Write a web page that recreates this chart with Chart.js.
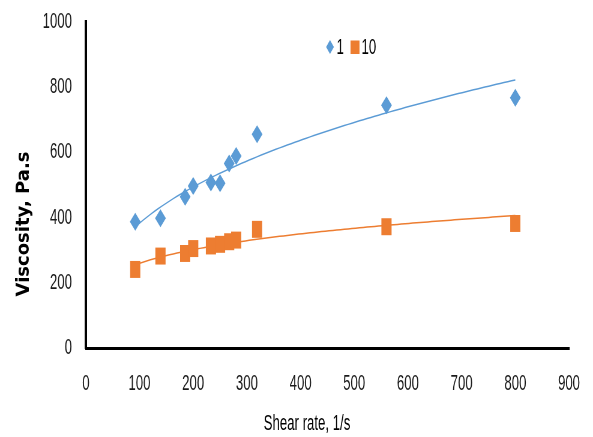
<!DOCTYPE html>
<html>
<head>
<meta charset="utf-8">
<script src="https://cdn.jsdelivr.net/npm/chart.js@4/dist/chart.umd.min.js"></script>
<style>
  html, body { margin: 0; padding: 0; background: #fff; }
  #wrap { width: 593px; height: 437px; overflow: hidden; position: relative; }
  /* the chart is laid out on a wider canvas and squeezed horizontally */
  #chart { transform-origin: 0 0; transform: scaleX(0.6002); }
</style>
</head>
<body>
<div id="wrap"><canvas id="chart" width="988" height="437"></canvas></div>
<script>
// Shear rate (1/s) and measured viscosity (Pa.s) for the two series
const shearRate   = [92, 139, 185, 200, 233, 250, 267, 280, 319, 560, 800];
const viscosity1  = [387, 398, 464, 497, 508, 505, 566, 589, 656, 745, 768];
const viscosity10 = [241, 282, 290, 305, 313, 318, 326, 331, 364, 372, 382];
const seriesNames = ['1', '10'];
const xTitle = 'Shear rate, 1/s';
const yTitle = 'Viscosity, Pa.s';

const SX = 593 / 988;             // horizontal squeeze applied by CSS
const BLUE = '#5B9BD5';
const ORANGE = '#ED7D31';
const TICK_FONT = 'Liberation Sans, Arial, sans-serif';

// least-squares power-law trendline (y = a * x^b), fitted in log space
function powerFit(xs, ys) {
  const n = xs.length;
  const lx = xs.map(Math.log), ly = ys.map(Math.log);
  const mx = lx.reduce((s, v) => s + v, 0) / n;
  const my = ly.reduce((s, v) => s + v, 0) / n;
  let sxy = 0, sxx = 0;
  for (let i = 0; i < n; i++) { sxy += (lx[i] - mx) * (ly[i] - my); sxx += (lx[i] - mx) ** 2; }
  const b = sxy / sxx, a = Math.exp(my - b * mx);
  return x => a * Math.pow(x, b);
}
function trendCurve(xs, ys) {
  const f = powerFit(xs, ys);
  const lo = Math.min(...xs), hi = Math.max(...xs), pts = [];
  for (let i = 0; i <= 100; i++) { const x = lo + (hi - lo) * i / 100; pts.push({ x, y: f(x) }); }
  return pts;
}
const toPoints = ys => shearRate.map((x, i) => ({ x, y: ys[i] }));

// axis titles and the legend, drawn on top of the plot
const annotations = {
  id: 'annotations',
  afterDraw(chart) {
    const ctx = chart.ctx;
    ctx.save();
    // vertical title, kept at its natural width
    ctx.save();
    ctx.translate(24 / SX, 224);
    ctx.scale(1 / SX, 1);
    ctx.rotate(-Math.PI / 2);
    ctx.font = 'bold 18px "DejaVu Sans", Verdana, sans-serif';
    ctx.fillStyle = '#000';
    ctx.textAlign = 'center';
    ctx.textBaseline = 'middle';
    ctx.fillText(yTitle, 0, 0);
    ctx.restore();

    // horizontal title
    ctx.font = '22px ' + TICK_FONT;
    ctx.fillStyle = '#000';
    ctx.textAlign = 'center';
    ctx.textBaseline = 'middle';
    ctx.fillText(xTitle, 307 / SX, 424);

    // legend
    const ly = 47;
    const d0 = chart.data.datasets[0], d1 = chart.data.datasets[1];
    ctx.fillStyle = d0.backgroundColor;
    ctx.beginPath();
    const cx = 330 / SX;
    ctx.moveTo(cx, ly - 7); ctx.lineTo(cx + 6.5, ly); ctx.lineTo(cx, ly + 7); ctx.lineTo(cx - 6.5, ly);
    ctx.closePath(); ctx.fill();
    ctx.fillStyle = d1.backgroundColor;
    ctx.fillRect(350.5 / SX, ly - 6.5, 9 / SX, 13.5);
    ctx.fillStyle = '#000';
    ctx.font = '22px ' + TICK_FONT;
    ctx.textAlign = 'left';
    ctx.fillText(d0.label, 336.5 / SX, ly + 1);
    ctx.fillText(d1.label, 361.5 / SX, ly + 1);
    ctx.restore();
  }
};

new Chart(document.getElementById('chart'), {
  type: 'scatter',
  data: {
    datasets: [
      { label: seriesNames[0], data: toPoints(viscosity1), pointStyle: 'rectRot', pointRadius: 9,
        backgroundColor: BLUE, borderColor: BLUE, borderWidth: 0, order: 0 },
      { label: seriesNames[1], data: toPoints(viscosity10), pointStyle: 'rect', pointRadius: 12,
        backgroundColor: ORANGE, borderColor: ORANGE, borderWidth: 0, order: 0 },
      { label: 'Power (' + seriesNames[0] + ')', data: trendCurve(shearRate, viscosity1), showLine: true,
        pointRadius: 0, borderColor: BLUE, borderWidth: 1.5, fill: false, order: 1 },
      { label: 'Power (' + seriesNames[1] + ')', data: trendCurve(shearRate, viscosity10), showLine: true,
        pointRadius: 0, borderColor: ORANGE, borderWidth: 1.5, fill: false, order: 1 }
    ]
  },
  options: {
    responsive: false,
    animation: false,
    devicePixelRatio: 1,
    layout: { padding: { left: 0, right: 40, top: 22, bottom: 0 } },
    plugins: { legend: { display: false }, tooltip: { enabled: false } },
    scales: {
      x: {
        type: 'linear', min: 0, max: 900,
        ticks: { stepSize: 100, padding: 23, color: '#1a1a1a', font: { family: TICK_FONT, size: 22 },
                 callback: v => String(v) },
        grid: { display: false, drawTicks: false },
        border: { display: true, color: '#000', width: 3 },
        afterFit(scale) { scale.height = 89; scale.paddingLeft = 0; scale.paddingRight = 0; }
      },
      y: {
        type: 'linear', min: 0, max: 1000,
        ticks: { stepSize: 200, padding: 23, color: '#1a1a1a', font: { family: TICK_FONT, size: 22 },
                 callback: v => String(v) },
        grid: { display: false, drawTicks: false },
        border: { display: true, color: '#000', width: 4 },
        afterFit(scale) { scale.width = 143; scale.paddingTop = 0; scale.paddingBottom = 0; }
      }
    }
  },
  plugins: [annotations]
});
</script>
</body>
</html>
